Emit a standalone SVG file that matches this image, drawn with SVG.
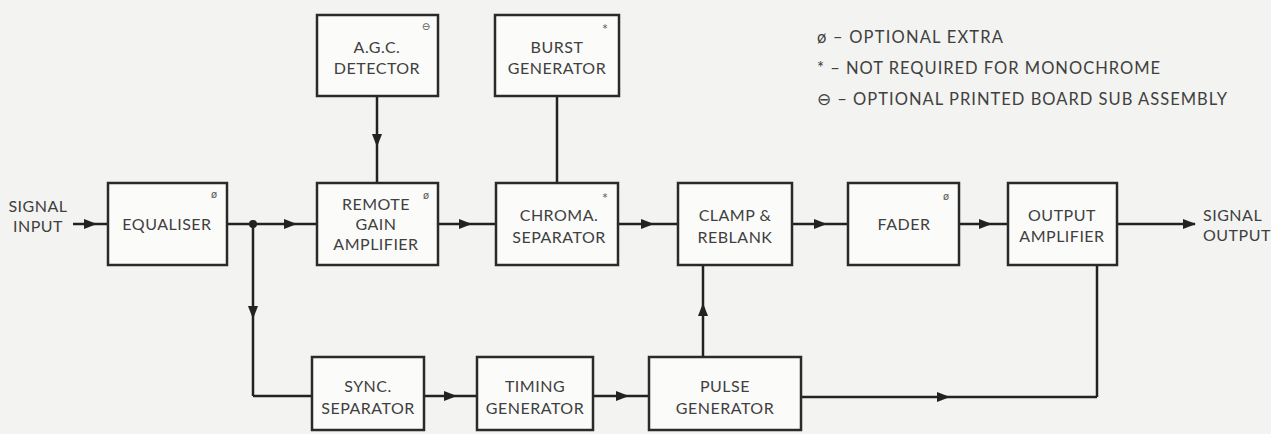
<svg xmlns="http://www.w3.org/2000/svg" width="1271" height="434" viewBox="0 0 1271 434">
<defs>
<marker id="ah" markerUnits="userSpaceOnUse" markerWidth="14" markerHeight="12" refX="6" refY="5" orient="auto"><path d="M0,0 L13,5 L0,10 z" fill="#222"/></marker>
<marker id="ahe" markerUnits="userSpaceOnUse" markerWidth="14" markerHeight="12" refX="12" refY="5" orient="auto"><path d="M0,0 L13,5 L0,10 z" fill="#222"/></marker>
<style>
.box{fill:#fbfbfa;stroke:#2a2a2a;stroke-width:2.5}
.t{font-family:Lato,"Open Sans",sans-serif;font-size:16px;fill:#404040;text-anchor:middle;letter-spacing:0.5px}
.s{font-family:"DejaVu Sans",sans-serif;font-size:10px;fill:#555;text-anchor:middle}
.lg{font-family:Lato,"Open Sans",sans-serif;font-size:16.5px;fill:#404040}
.c{fill:none;stroke:#222;stroke-width:2.5}
</style>
</defs>
<rect width="1271" height="434" fill="#f3f3f1"/>
<g id="connectors">
<path class="c" d="M73,224 L90,224 L108,224" marker-mid="url(#ah)"/>
<path class="c" d="M227,224 L290,224 L317,224" marker-mid="url(#ah)"/>
<circle cx="253" cy="224" r="4" fill="#222"/>
<path class="c" d="M253,224 L253,312 L253,396" marker-mid="url(#ah)"/>
<path class="c" d="M253,396 L312,396"/>
<path class="c" d="M377,96 L377,140 L377,183" marker-mid="url(#ah)"/>
<path class="c" d="M557,96 L557,183"/>
<path class="c" d="M438,224 L465,224 L496,224" marker-mid="url(#ah)"/>
<path class="c" d="M618,224 L647,224 L678,224" marker-mid="url(#ah)"/>
<path class="c" d="M792,224 L820,224 L848,224" marker-mid="url(#ah)"/>
<path class="c" d="M959,224 L985,224 L1008,224" marker-mid="url(#ah)"/>
<path class="c" d="M1117,224 L1195,224" marker-end="url(#ahe)"/>
<path class="c" d="M424,396 L450,396 L477,396" marker-mid="url(#ah)"/>
<path class="c" d="M593,396 L622,396 L649,396" marker-mid="url(#ah)"/>
<path class="c" d="M703,357 L703,310 L703,265" marker-mid="url(#ah)"/>
<path class="c" d="M801,397 L943,397 L1097,397" marker-mid="url(#ah)"/>
<path class="c" d="M1097,397 L1097,265"/>
</g>
<g id="signal-input"><text class="t" x="38" y="212">SIGNAL</text><text class="t" x="38" y="232">INPUT</text></g>
<g id="signal-output"><text class="t" x="1203" y="221" style="text-anchor:start">SIGNAL</text><text class="t" x="1203" y="241" style="text-anchor:start">OUTPUT</text></g>
<g id="equaliser"><rect class="box" x="108" y="183" width="119" height="82"/><text class="t" x="167" y="230">EQUALISER</text><text class="s" x="214" y="198">ø</text></g>
<g id="agc-detector"><rect class="box" x="317" y="15" width="121" height="81"/><text class="t" x="377" y="53">A.G.C.</text><text class="t" x="377" y="74">DETECTOR</text><text class="s" x="426" y="30">⊖</text></g>
<g id="burst-generator"><rect class="box" x="495" y="15" width="124" height="81"/><text class="t" x="557" y="53">BURST</text><text class="t" x="557" y="74">GENERATOR</text><text class="s" x="605" y="32">*</text></g>
<g id="remote-gain-amplifier"><rect class="box" x="317" y="183" width="121" height="82"/><text class="t" x="376" y="210">REMOTE</text><text class="t" x="376" y="230">GAIN</text><text class="t" x="376" y="250">AMPLIFIER</text><text class="s" x="426" y="199">ø</text></g>
<g id="chroma-separator"><rect class="box" x="496" y="183" width="122" height="82"/><text class="t" x="559" y="221">CHROMA.</text><text class="t" x="559" y="243">SEPARATOR</text><text class="s" x="605" y="201">*</text></g>
<g id="clamp-reblank"><rect class="box" x="678" y="183" width="114" height="82"/><text class="t" x="735" y="221">CLAMP &amp;</text><text class="t" x="735" y="243">REBLANK</text></g>
<g id="fader"><rect class="box" x="848" y="183" width="111" height="82"/><text class="t" x="904" y="230">FADER</text><text class="s" x="946" y="200">ø</text></g>
<g id="output-amplifier"><rect class="box" x="1008" y="183" width="109" height="82"/><text class="t" x="1062" y="221">OUTPUT</text><text class="t" x="1062" y="242">AMPLIFIER</text></g>
<g id="sync-separator"><rect class="box" x="312" y="357" width="112" height="73"/><text class="t" x="368" y="392">SYNC.</text><text class="t" x="368" y="414">SEPARATOR</text></g>
<g id="timing-generator"><rect class="box" x="477" y="357" width="116" height="73"/><text class="t" x="535" y="392">TIMING</text><text class="t" x="535" y="414">GENERATOR</text></g>
<g id="pulse-generator"><rect class="box" x="649" y="357" width="152" height="73"/><text class="t" x="725" y="392">PULSE</text><text class="t" x="725" y="414">GENERATOR</text></g>
<g id="legend">
<text class="lg" x="817" y="43" textLength="186" lengthAdjust="spacing">ø – OPTIONAL EXTRA</text>
<text class="lg" x="817" y="74" textLength="343" lengthAdjust="spacing">* – NOT REQUIRED FOR MONOCHROME</text>
<text class="lg" x="817" y="105" textLength="410" lengthAdjust="spacing">⊖ – OPTIONAL PRINTED BOARD SUB ASSEMBLY</text>
</g>
</svg>
